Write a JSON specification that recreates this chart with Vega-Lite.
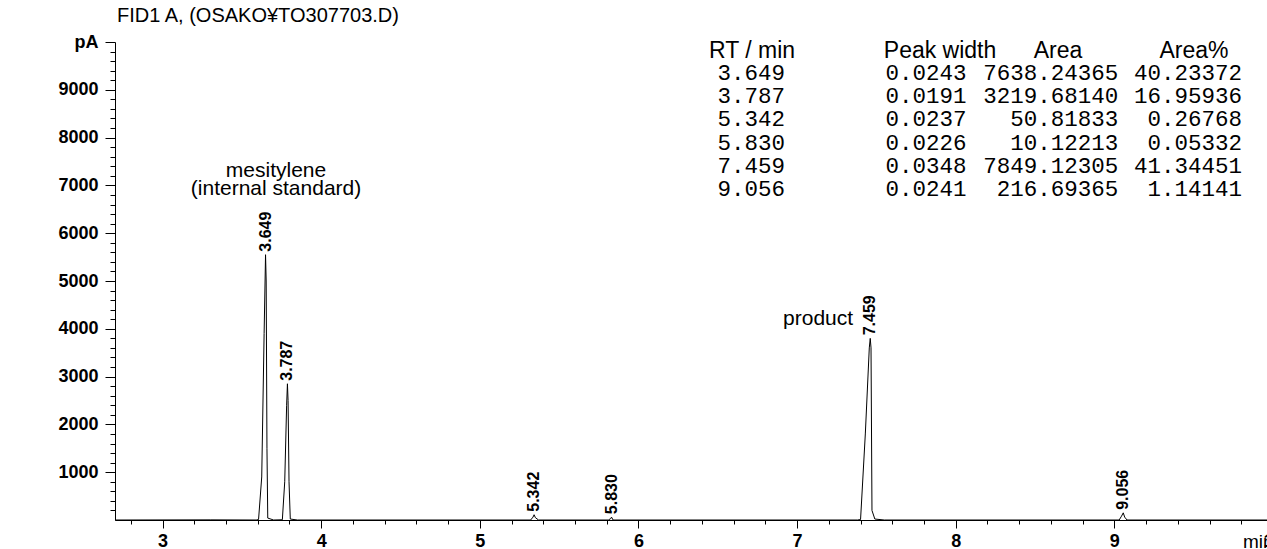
{
  "$schema": "https://vega.github.io/schema/vega-lite/v6.json",
  "width": 1158,
  "height": 478,
  "autosize": {"type": "none"},
  "padding": {"left": 115, "top": 42, "right": 0, "bottom": 29},
  "background": "white",
  "title": {"text": "FID1 A, (OSAKO¥TO307703.D)", "anchor": "start", "font": "Liberation Sans", "fontSize": 20, "fontWeight": "normal", "color": "black", "offset": 13, "baseline": "alphabetic", "dx": 59, "dy": 22},
  "datasets": {
    "trace": [
      {"t": 2.70, "v": 0}, {"t": 3.30, "v": 3}, {"t": 3.59, "v": 0}, {"t": 3.605, "v": 10},
      {"t": 3.625, "v": 900}, {"t": 3.640, "v": 3900}, {"t": 3.646, "v": 5000}, {"t": 3.649, "v": 5550},
      {"t": 3.653, "v": 5000}, {"t": 3.658, "v": 1500}, {"t": 3.663, "v": 40}, {"t": 3.70, "v": 0},
      {"t": 3.755, "v": 5}, {"t": 3.770, "v": 800}, {"t": 3.782, "v": 2400}, {"t": 3.787, "v": 2850},
      {"t": 3.791, "v": 2500}, {"t": 3.797, "v": 800}, {"t": 3.805, "v": 20}, {"t": 3.85, "v": 0},
      {"t": 5.32, "v": 0}, {"t": 5.335, "v": 60}, {"t": 5.342, "v": 110}, {"t": 5.35, "v": 50}, {"t": 5.37, "v": 0},
      {"t": 5.81, "v": 0}, {"t": 5.825, "v": 30}, {"t": 5.830, "v": 60}, {"t": 5.84, "v": 0},
      {"t": 7.38, "v": 0}, {"t": 7.40, "v": 10}, {"t": 7.43, "v": 1800}, {"t": 7.455, "v": 3600},
      {"t": 7.461, "v": 3800}, {"t": 7.466, "v": 3600}, {"t": 7.472, "v": 200}, {"t": 7.49, "v": 20}, {"t": 7.55, "v": 0},
      {"t": 9.03, "v": 0}, {"t": 9.045, "v": 80}, {"t": 9.056, "v": 150}, {"t": 9.065, "v": 60}, {"t": 9.08, "v": 0},
      {"t": 10.0, "v": 0}
    ],
    "peaks": [
      {"peak": 1, "t": 3.649, "v": 5550, "w": 0.0243, "area": 7638.24365, "pct": 40.23372},
      {"peak": 2, "t": 3.787, "v": 2850, "w": 0.0191, "area": 3219.68140, "pct": 16.95936},
      {"peak": 3, "t": 5.342, "v": 110, "w": 0.0237, "area": 50.81833, "pct": 0.26768},
      {"peak": 4, "t": 5.830, "v": 60, "w": 0.0226, "area": 10.12213, "pct": 0.05332},
      {"peak": 5, "t": 7.459, "v": 3800, "w": 0.0348, "area": 7849.12305, "pct": 41.34451},
      {"peak": 6, "t": 9.056, "v": 150, "w": 0.0241, "area": 216.69365, "pct": 1.14141}
    ]
  },
  "resolve": {"scale": {"x": "independent", "y": "independent"}, "axis": {"x": "independent", "y": "independent"}},
  "layer": [
    {
      "resolve": {"axis": {"x": "independent", "y": "independent"}},
      "layer": [
        {
          "data": {"name": "trace"},
          "mark": {"type": "line", "color": "black", "strokeWidth": 1, "interpolate": "linear"},
          "encoding": {
            "x": {"field": "t", "type": "quantitative",
              "scale": {"domain": [2.7, 10], "nice": false, "zero": false},
              "axis": {
                "orient": "bottom",
                "values": [3, 4, 5, 6, 7, 8, 9, 10],
                "format": "d",
                "tickSize": 8,
                "labelPadding": 4,
                "labelFontSize": 18,
                "labelOverlap": false,
                "labelFlush": false,
                "title": "min",
                "titleAnchor": "end",
                "titleAlign": "right",
                "titleFontWeight": "normal",
                "titleFontSize": 19,
                "titleBaseline": "middle",
                "titleY": 21
              }
            },
            "y": {"field": "v", "type": "quantitative",
              "scale": {"domain": [0, 10000], "nice": false, "zero": true},
              "axis": {
                "orient": "left",
                "values": [1000, 2000, 3000, 4000, 5000, 6000, 7000, 8000, 9000, 10000],
                "format": "d",
                "tickSize": 10,
                "labelExpr": "datum.value === 10000 ? 'pA' : datum.label",
                "labelPadding": 7,
                "labelFontSize": 18,
                "labelOverlap": false,
                "labelFlush": false,
                "title": null
              }
            }
          }
        },
        {
          "data": {"name": "peaks"},
          "mark": {"type": "text", "angle": 270, "align": "left", "baseline": "middle", "dx": 3, "font": "Liberation Sans", "fontWeight": "bold", "fontSize": 16, "color": "black"},
          "encoding": {
            "x": {"field": "t", "type": "quantitative",
              "axis": {
                "orient": "bottom",
                "values": [2.8,3.2,3.4,3.6,3.8,4.2,4.4,4.6,4.8,5.2,5.4,5.6,5.8,6.2,6.4,6.6,6.8,7.2,7.4,7.6,7.8,8.2,8.4,8.6,8.8,9.2,9.4,9.6,9.8],
                "tickSize": 4,
                "labels": false,
                "domain": false,
                "title": null
              }
            },
            "y": {"field": "v", "type": "quantitative",
              "axis": {
                "orient": "left",
                "values": [200,400,600,800,1200,1400,1600,1800,2200,2400,2600,2800,3200,3400,3600,3800,4200,4400,4600,4800,5200,5400,5600,5800,6200,6400,6600,6800,7200,7400,7600,7800,8200,8400,8600,8800,9200,9400,9600,9800],
                "tickSize": 5,
                "labels": false,
                "domain": false,
                "title": null
              }
            },
            "text": {"field": "t", "type": "quantitative", "format": ".3f"}
          }
        },
        {
          "data": {"values": [
            {"label": "mesitylene", "t": 3.715, "v": 7176},
            {"label": "(internal standard)", "t": 3.715, "v": 6799}
          ]},
          "mark": {"type": "text", "align": "center", "baseline": "alphabetic", "font": "Liberation Sans", "fontSize": 21, "color": "black"},
          "encoding": {
            "x": {"field": "t", "type": "quantitative", "axis": null},
            "y": {"field": "v", "type": "quantitative", "axis": null},
            "text": {"field": "label"}
          }
        },
        {
          "data": {"values": [{"label": "product", "t": 7.353, "v": 4079}]},
          "mark": {"type": "text", "align": "right", "baseline": "alphabetic", "font": "Liberation Sans", "fontSize": 21, "color": "black"},
          "encoding": {
            "x": {"field": "t", "type": "quantitative", "axis": null},
            "y": {"field": "v", "type": "quantitative", "axis": null},
            "text": {"field": "label"}
          }
        },
        {
          "data": {"values": [
            {"label": "RT / min", "t": 6.716, "v": 9812},
            {"label": "Peak width", "t": 7.901, "v": 9812},
            {"label": "Area", "t": 8.645, "v": 9812},
            {"label": "Area%", "t": 9.502, "v": 9812}
          ]},
          "mark": {"type": "text", "align": "center", "baseline": "middle", "font": "Liberation Sans", "fontSize": 23, "color": "black"},
          "encoding": {
            "x": {"field": "t", "type": "quantitative", "axis": null},
            "y": {"field": "v", "type": "quantitative", "axis": null},
            "text": {"field": "label"}
          }
        }
      ]
    },
    {
      "data": {"name": "peaks"},
      "encoding": {
        "y": {"field": "peak", "type": "quantitative", "scale": {"domain": [-0.336, 20.267], "reverse": true, "nice": false, "zero": false}, "axis": null}
      },
      "layer": [
        {
          "mark": {"type": "text", "align": "right", "baseline": "middle", "font": "Liberation Mono", "fontSize": 22.5, "color": "black"},
          "encoding": {
            "x": {"datum": 6.924, "type": "quantitative", "scale": {"domain": [2.7, 10], "nice": false, "zero": false}, "axis": null},
            "text": {"field": "t", "type": "quantitative", "format": ".3f"}
          }
        },
        {
          "mark": {"type": "text", "align": "right", "baseline": "middle", "font": "Liberation Mono", "fontSize": 22.5, "color": "black"},
          "encoding": {
            "x": {"datum": 8.068, "type": "quantitative"},
            "text": {"field": "w", "type": "quantitative", "format": ".4f"}
          }
        },
        {
          "mark": {"type": "text", "align": "right", "baseline": "middle", "font": "Liberation Mono", "fontSize": 22.5, "color": "black"},
          "encoding": {
            "x": {"datum": 9.025, "type": "quantitative"},
            "text": {"field": "area", "type": "quantitative", "format": ".5f"}
          }
        },
        {
          "mark": {"type": "text", "align": "right", "baseline": "middle", "font": "Liberation Mono", "fontSize": 22.5, "color": "black"},
          "encoding": {
            "x": {"datum": 9.805, "type": "quantitative"},
            "text": {"field": "pct", "type": "quantitative", "format": ".5f"}
          }
        }
      ]
    }
  ],
  "config": {
    "view": {"stroke": null},
    "font": "Liberation Sans",
    "axis": {"domainColor": "black", "domainWidth": 1, "tickColor": "black", "tickWidth": 1, "labelColor": "black", "labelFont": "Liberation Sans", "labelFontWeight": "bold", "labelFontSize": 17, "grid": false, "titleColor": "black", "titleFont": "Liberation Sans"}
  }
}
